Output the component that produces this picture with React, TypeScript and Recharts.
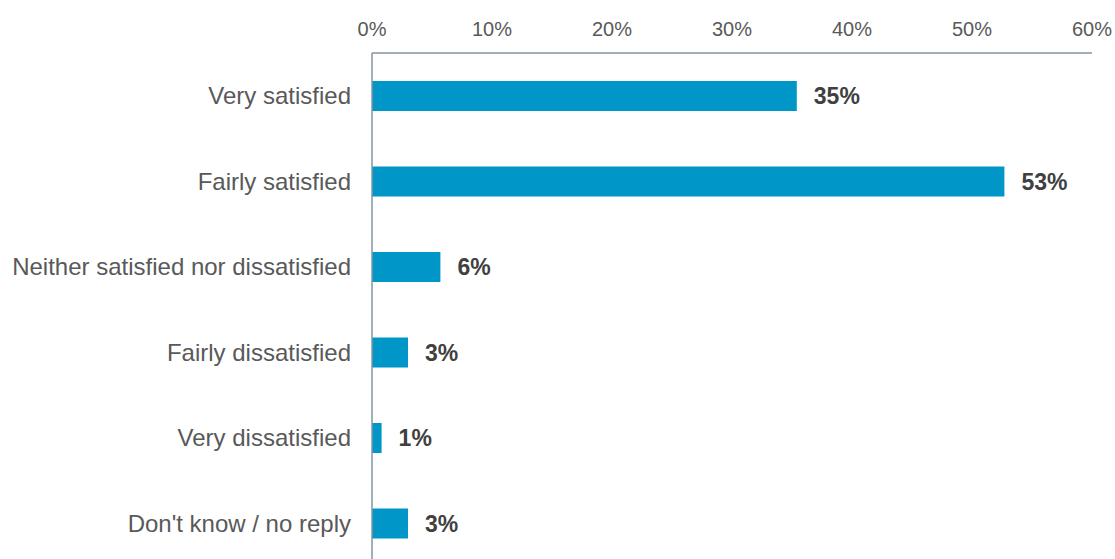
import React from 'react';
import { BarChart, Bar, XAxis, YAxis, LabelList } from 'recharts';

// survey answers, top to bottom
const categories = [
  'Very satisfied',
  'Fairly satisfied',
  'Neither satisfied nor dissatisfied',
  'Fairly dissatisfied',
  'Very dissatisfied',
  "Don't know / no reply",
];
const shares = [35.4, 52.7, 5.7, 3.0, 0.8, 3.0];
const xTicks = [0, 10, 20, 30, 40, 50, 60];

const data = categories.map((name, i) => ({ name, value: shares[i] }));

const FONT = '"Liberation Sans", Arial, sans-serif';
const AXIS_COLOR = '#8394a4';

export default function App() {
  // full window, no body margin; the plot runs past the bottom edge like the original
  return (
    <div style={{ fontFamily: FONT, width: 1115, height: 559, overflow: 'hidden' }}>
      <style>{'html,body{margin:0;overflow:hidden}'}</style>
      <BarChart
        width={1115}
        height={568}
        data={data}
        layout="vertical"
        margin={{ top: 8, right: 23, bottom: 2, left: 8 }}
        barSize={30}
      >
        <XAxis
          type="number"
          orientation="top"
          domain={[0, 60]}
          ticks={xTicks}
          tickFormatter={(v: number) => `${v}%`}
          height={45}
          tickSize={0}
          tickMargin={17}
          axisLine={{ stroke: AXIS_COLOR, strokeWidth: 1.5 }}
          tick={{ fill: '#595959', fontSize: 20, fontFamily: FONT }}
          interval={0}
        />
        <YAxis
          type="category"
          dataKey="name"
          width={364}
          tickSize={0}
          tickMargin={21}
          axisLine={{ stroke: AXIS_COLOR, strokeWidth: 1.5 }}
          tick={{ fill: '#595959', fontSize: 24, fontFamily: FONT }}
          interval={0}
        />
        <Bar dataKey="value" fill="#0096c8" isAnimationActive={false}>
          <LabelList
            dataKey="value"
            position="right"
            offset={17}
            formatter={(v: number) => `${Math.round(v)}%`}
            style={{ fill: '#404040', fontSize: 23, fontWeight: 'bold', fontFamily: FONT }}
          />
        </Bar>
      </BarChart>
    </div>
  );
}
